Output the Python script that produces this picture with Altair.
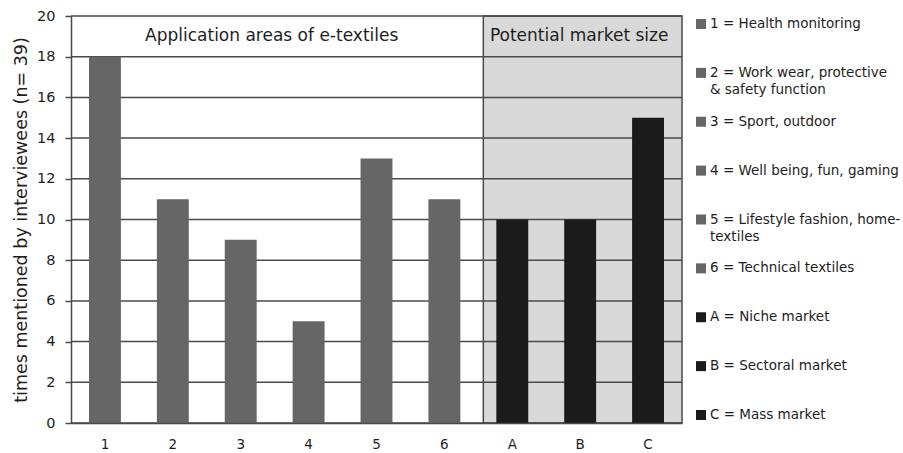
import altair as alt
import pandas as pd

# Bar categories and counts
categories = ["1", "2", "3", "4", "5", "6", "A", "B", "C"]
counts = [18, 11, 9, 5, 13, 11, 10, 10, 15]
groups = ["app"] * 6 + ["market"] * 3

# Legend entries (same order as the bars)
legend_labels = [
    "1 = Health monitoring",
    "2 = Work wear, protective\n& safety function",
    "3 = Sport, outdoor",
    "4 = Well being, fun, gaming",
    "5 = Lifestyle fashion, home-\ntextiles",
    "6 = Technical textiles",
    "A = Niche market",
    "B = Sectoral market",
    "C = Mass market",
]

# Y axis ticks / horizontal grid
y_ticks = [0, 2, 4, 6, 8, 10, 12, 14, 16, 18, 20]

FONT = "DejaVu Sans"
TEXT = "#1e1e1e"
LINE = "#4a4a4a"

bars_df = pd.DataFrame({"cat": categories, "count": counts, "group": groups})
grid_df = pd.DataFrame({"v": y_ticks})
legend_df = pd.DataFrame({
    "entry": categories,
    "group": groups,
    "line1": [s.split("\n")[0] for s in legend_labels],
    "line2": [s.split("\n")[1] if "\n" in s else "" for s in legend_labels],
})
one = pd.DataFrame({"k": [0]})

x_scale = alt.Scale(domain=categories, paddingInner=0.53, paddingOuter=0.265)
y_scale = alt.Scale(domain=[0, 20], nice=False)
color_scale = alt.Scale(domain=["app", "market"], range=["#666666", "#1b1b1b"])

y_axis = alt.Axis(
    title="times mentioned by interviewees (n= 39)",
    values=y_ticks, grid=False, tickSize=6, tickColor=LINE, tickWidth=1.5,
    labelPadding=10, labelFontSize=14.5, labelColor=TEXT, labelFont=FONT,
    domainColor=LINE, domainWidth=1.5,
    titleFont=FONT, titleFontSize=17.5, titleFontWeight="normal",
    titleColor=TEXT, titlePadding=6,
)
x_axis = alt.Axis(
    title=None, labelAngle=0, ticks=False, labelPadding=21, labelBaseline="middle",
    labelFontSize=13.5, labelColor=TEXT, labelFont=FONT,
    domainColor=LINE, domainWidth=1.5,
)

# Shaded "potential market size" region spanning the A-C columns
band_x = dict(
    x=alt.XDatum("A", type="nominal", bandPosition=0, scale=x_scale, axis=x_axis),
    x2=alt.X2Datum("C", bandPosition=1),
)
market_band = alt.Chart(one).mark_rect(
    fill="#d9d9d9", xOffset=-13, x2Offset=18
).encode(**band_x)

grid = alt.Chart(grid_df).mark_rule(color=LINE, strokeWidth=1.5).encode(
    y=alt.Y("v:Q", scale=y_scale, axis=y_axis)
)

band_edge = alt.Chart(one).mark_rect(
    fill=None, stroke=LINE, strokeWidth=1.5, xOffset=-13, x2Offset=18
).encode(**band_x)

bars = alt.Chart(bars_df).mark_bar().encode(
    x=alt.X("cat:N", scale=x_scale, sort=categories, axis=x_axis),
    y=alt.Y("count:Q", scale=y_scale, axis=y_axis),
    color=alt.Color("group:N", scale=color_scale, legend=None),
)

header_app = alt.Chart(one).mark_text(font=FONT, fontSize=17, color=TEXT, dx=15).encode(
    x=alt.XDatum("3", type="nominal", bandPosition=1, scale=x_scale, axis=x_axis),
    y=alt.YDatum(19, scale=y_scale, axis=y_axis),
    text=alt.value("Application areas of e-textiles"),
)
header_market = alt.Chart(one).mark_text(font=FONT, fontSize=17, color=TEXT, dx=-1).encode(
    x=alt.XDatum("B", type="nominal", bandPosition=0.5, scale=x_scale, axis=x_axis),
    y=alt.YDatum(19, scale=y_scale, axis=y_axis),
    text=alt.value("Potential market size"),
)

main = alt.layer(market_band, grid, band_edge, bars, header_app, header_market)

# Legend column to the right of the plot
entry_scale = alt.Scale(domain=categories, padding=0.164)
legend_squares = alt.Chart(legend_df).mark_square(size=100, opacity=1).encode(
    x=alt.value(630),
    y=alt.Y("entry:N", scale=entry_scale, sort=categories, axis=None),
    color=alt.Color("group:N", scale=color_scale, legend=None),
)
legend_text1 = alt.Chart(legend_df).mark_text(
    font=FONT, fontSize=13.5, color=TEXT, align="left", baseline="middle"
).encode(
    x=alt.value(639),
    y=alt.Y("entry:N", scale=entry_scale, sort=categories, axis=None),
    text="line1:N",
)
legend_text2 = alt.Chart(legend_df).mark_text(
    font=FONT, fontSize=13.5, color=TEXT, align="left", baseline="middle", dy=17
).encode(
    x=alt.value(639),
    y=alt.Y("entry:N", scale=entry_scale, sort=categories, axis=None),
    text="line2:N",
)
legend = alt.layer(legend_squares, legend_text1, legend_text2)

chart = (
    alt.layer(main, legend)
    .resolve_scale(y="independent")
    .properties(
        width=611,
        height=407,
        autosize=alt.AutoSizeParams(type="none"),
        padding={"left": 71, "top": 16, "right": 221, "bottom": 30},
        background="white",
    )
    .configure_view(stroke=None)
)

chart.save("out.html", embed_options={"renderer": "svg", "actions": False})
